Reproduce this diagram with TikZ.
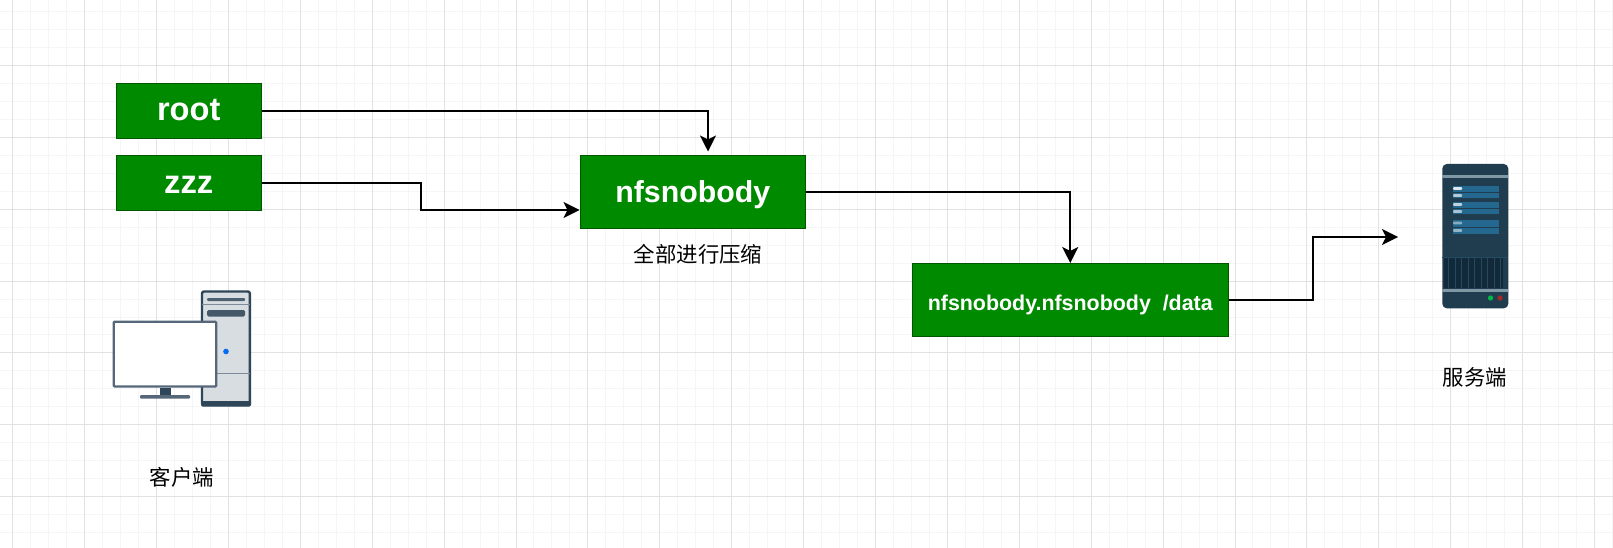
\documentclass[tikz,border=0pt]{standalone}
\usepackage{fontspec}
\setmainfont{Liberation Sans}
\newfontfamily\cjk{Noto Sans CJK SC}
\usetikzlibrary{arrows.meta}
\definecolor{boxgreen}{HTML}{008A00}
\definecolor{boxedge}{HTML}{005700}
\definecolor{gridmajor}{HTML}{E2E2E2}
\definecolor{gridminor}{HTML}{F5F5F5}
\definecolor{towerdark}{HTML}{2F4558}
\definecolor{towerfill}{HTML}{D8DDE2}
\definecolor{monedge}{HTML}{56677A}
\definecolor{srvbody}{HTML}{1F3D4E}
\definecolor{srvrow}{HTML}{24688F}
\definecolor{srvstripe}{HTML}{7F98A3}
\definecolor{srvvent}{HTML}{12293A}
\definecolor{srvventline}{HTML}{234A5E}
\newcommand{\boxtext}[2]{\raisebox{-#1pt}[0pt][0pt]{#2}}
\tikzset{
  x=1pt,y=-1pt,
  greenbox/.style={draw=boxedge,fill=boxgreen,line width=1pt,text=white,font=\bfseries,inner sep=0pt,align=center},
  caption/.style={font=\cjk\fontsize{21.4}{26}\selectfont,text=black,inner sep=0pt},
  link/.style={draw=black,line width=1.6pt,-{Stealth[length=16pt,width=16pt,inset=4pt]}},
  minorline/.style={draw=gridminor,line width=1pt},
  majorline/.style={draw=gridmajor,line width=1pt},
}
\begin{document}
\begin{tikzpicture}
\useasboundingbox (0,0) rectangle (1613,548);
\fill[white] (0,0) rectangle (1613,548);
% grid
\foreach \k in {0,...,89} {\draw[minorline] ({12.7+\k*17.975},0) -- ({12.7+\k*17.975},548);}
\foreach \k in {0,...,30} {\draw[minorline] (0,{11.7+\k*17.96}) -- (1613,{11.7+\k*17.96});}
\foreach \k in {0,...,22} {\draw[majorline] ({12.7+\k*71.9},0) -- ({12.7+\k*71.9},548);}
\foreach \k in {0,...,6} {\draw[majorline] (0,{65.6+\k*71.8}) -- (1613,{65.6+\k*71.8});}
% boxes
\node[greenbox,minimum width=144.5pt,minimum height=55pt,font=\bfseries\fontsize{32.6}{36}\selectfont] (root) at (188.75,111) {\boxtext{9.5}{root}};
\node[greenbox,minimum width=144.5pt,minimum height=55pt,font=\bfseries\fontsize{32.8}{36}\selectfont] (zzz) at (188.75,183) {\boxtext{10.4}{zzz}};
\node[greenbox,minimum width=225.5pt,minimum height=72.5pt,font=\bfseries\fontsize{30.3}{36}\selectfont] (nfs) at (692.75,192) {\boxtext{10.3}{nfsnobody}};
\node[greenbox,minimum width=315.5pt,minimum height=73pt,font=\bfseries\fontsize{21.4}{26}\selectfont] (data) at (1070.25,300) {\boxtext{10}{nfsnobody.nfsnobody\ \ /data}};
% captions
\node[caption] (cap1) at (698,254) {全部进行压缩};
\node[caption] (cap2) at (182,477) {客户端};
\node[caption] (cap3) at (1475,377.5) {服务端};
% free ends
\coordinate (rootend) at (708,151.5);
\coordinate (srvend) at (1398,237);
\coordinate (zzzmid) at (421,183);
\coordinate (datamid) at (1313,300);
% connectors
\draw[link] (root.east) -| (rootend);
\draw[link] (zzz.east) -- (zzzmid) |- (nfs.west |- 0,210);
\draw[link] (nfs.east) -| (data.north);
\draw[link] (data.east) -- (datamid) |- (srvend);
% client computer: tower
\draw[draw=towerdark,fill=towerfill,line width=2.4pt,rounded corners=2pt] (202,291.5) rectangle (249.8,405);
\fill[towerdark,rounded corners=1.5pt] (201,401) rectangle (251,406.5);
\draw[draw=monedge!70!towerfill,line width=1pt] (202,304.5) -- (250,304.5);
\draw[draw=monedge!70!towerfill,line width=1pt] (202,373.7) -- (250,373.7);
\fill[towerdark!85!white,rounded corners=1pt] (207,298) rectangle (245,301);
\fill[towerdark!90!white,rounded corners=1.5pt] (207,310) rectangle (245,316.5);
\fill[blue!55!cyan!95!black] (226,351.5) circle (2.8pt);
% client computer: monitor
\draw[draw=monedge,fill=white,line width=2.4pt,rounded corners=1pt] (113.7,321.7) rectangle (216.2,386.5);
\fill[towerdark] (160,387.5) rectangle (170.5,396);
\fill[monedge,rounded corners=1pt] (140,395) rectangle (190,398.5);
% server
\fill[srvbody,rounded corners=4.5pt] (1442.3,164) rectangle (1508.3,308.3);
\fill[srvstripe] (1442.3,175.3) rectangle (1508.3,178.3);
\fill[srvrow] (1453,186) rectangle (1499,198);
\fill[srvrow] (1453,201.7) rectangle (1499,214);
\fill[srvrow] (1453,220) rectangle (1499,234);
\draw[srvbody,line width=.7pt] (1453,192.2) -- (1499,192.2) (1453,208) -- (1499,208) (1453,227) -- (1499,227);
\foreach \yy/\cc in {188.5/white!85!srvrow,195.5/white!65!srvrow,204.5/white!70!srvrow,211.5/white!60!srvrow,223/white!45!srvrow,230.5/white!50!srvrow}
  {\fill[\cc,rounded corners=.8pt] (1453,\yy-1.3) rectangle (1462,\yy+1.3);}
\fill[srvventline] (1442.3,256.5) rectangle (1508.3,258);
\fill[srvvent] (1444,258) rectangle (1503,288);
\foreach \k in {0,...,8} {\fill[srvventline] ({1448+\k*6.5},258) rectangle ({1449.2+\k*6.5},288);}
\fill[srvstripe] (1442.3,288.8) rectangle (1508.3,292);
\fill[green!45!teal] (1490.5,298) circle (2.6pt);
\fill[red!60!black!85!white] (1500,298) circle (2.6pt);
\end{tikzpicture}
\end{document}
